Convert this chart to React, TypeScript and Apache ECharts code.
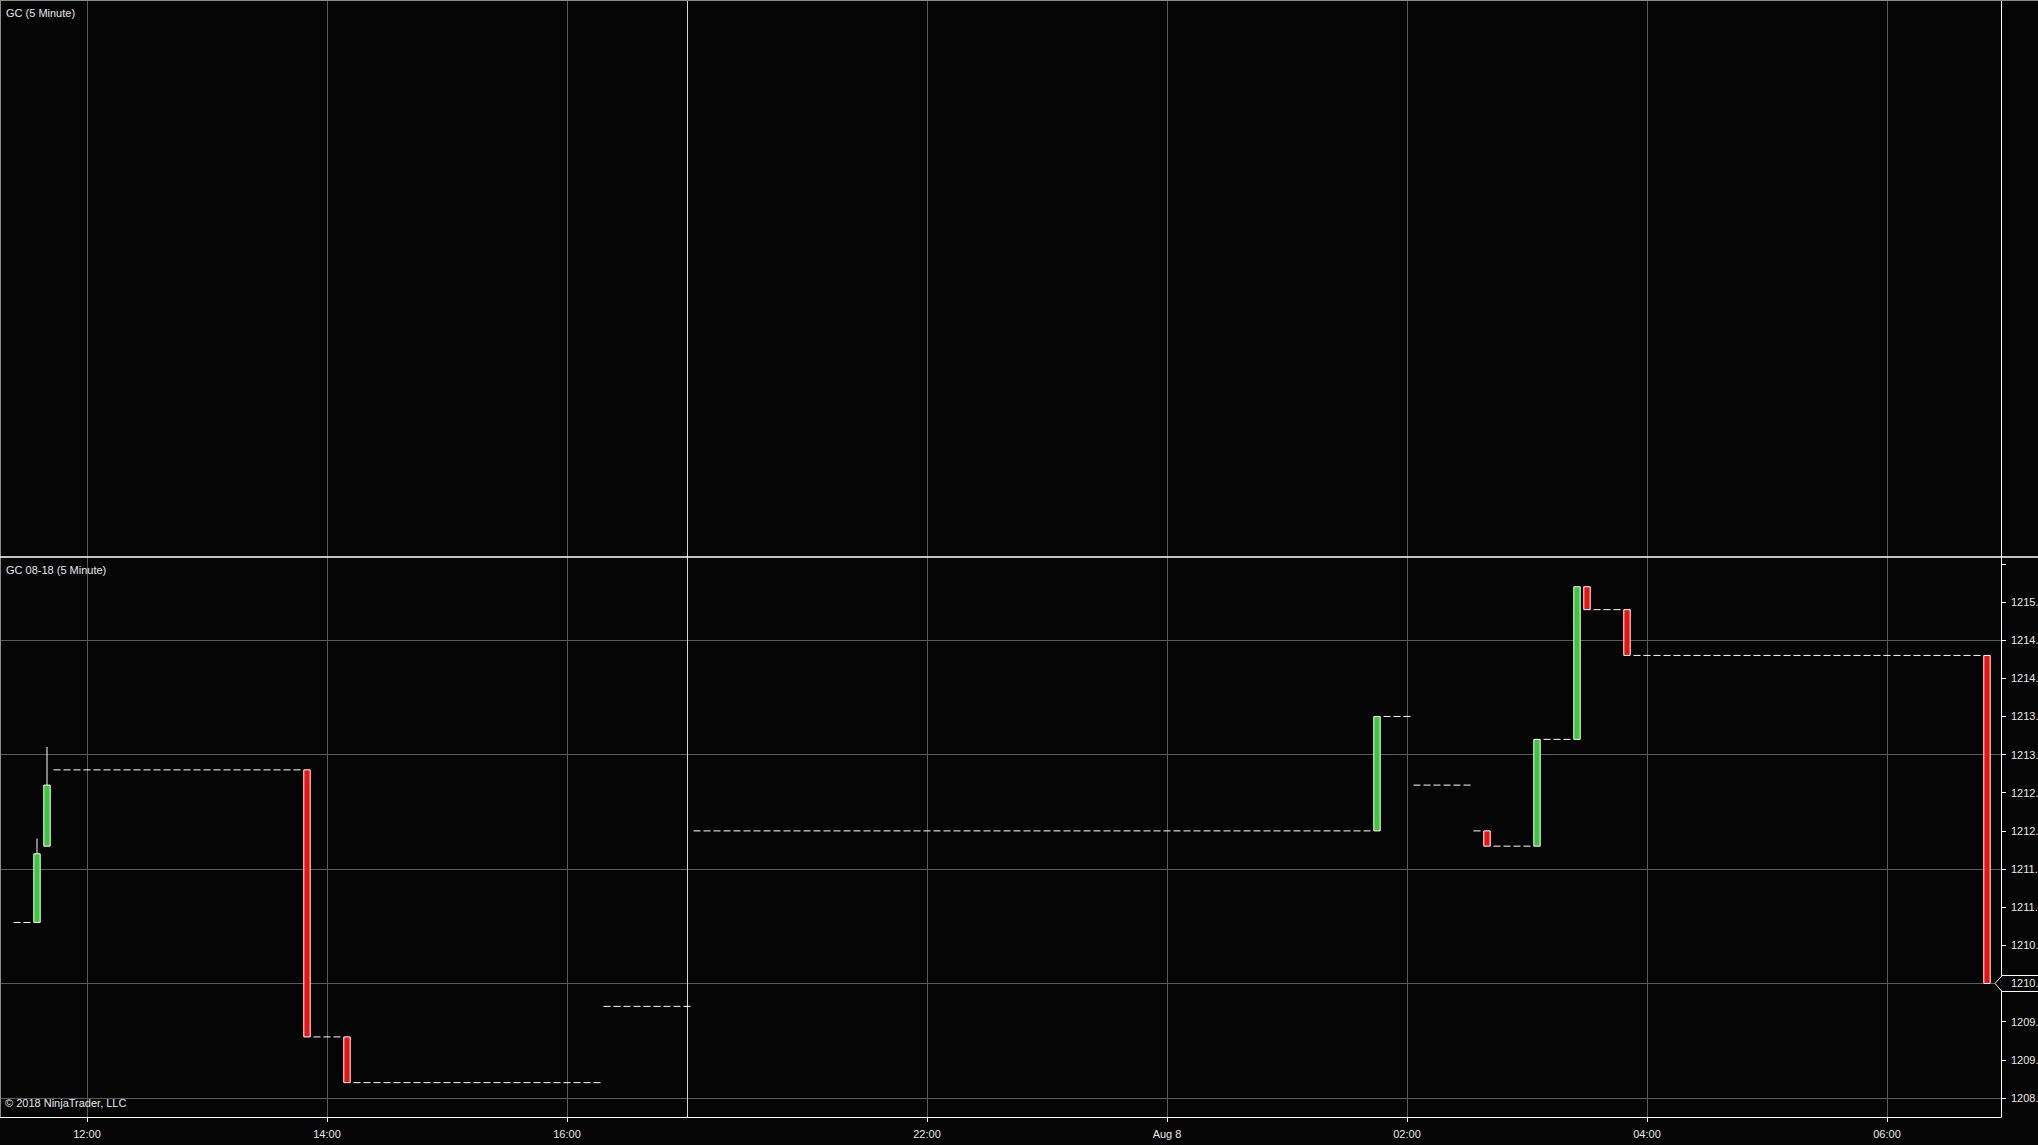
import React, { useEffect, useRef } from "react";
import * as echarts from "echarts";

// ---- data (5-minute bars, GC 08-18) ----
const candleTimes = [
  "08-07 11:35", "08-07 11:40", "08-07 13:50", "08-07 14:10",
  "08-08 01:45", "08-08 02:40", "08-08 03:05", "08-08 03:25",
  "08-08 03:30", "08-08 03:50", "08-08 06:50",
];
const candleOpen = [1210.8, 1211.8, 1212.8, 1209.3, 1212.0, 1212.0, 1211.8, 1213.2, 1215.2, 1214.9, 1214.3];
const candleClose = [1211.7, 1212.6, 1209.3, 1208.7, 1213.5, 1211.8, 1213.2, 1215.2, 1214.9, 1214.3, 1210.0];
const candleHigh = [1211.9, 1213.1, 1212.8, 1209.3, 1213.5, 1212.0, 1213.2, 1215.2, 1215.2, 1214.9, 1214.3];
const candleLow = [1210.8, 1211.8, 1209.3, 1208.7, 1212.0, 1211.8, 1211.8, 1213.2, 1214.9, 1214.3, 1210.0];

// runs of flat bars (open = high = low = close), drawn as dashes
const flatStart = [
  "08-07 11:25", "08-07 11:45", "08-07 13:55", "08-07 14:15", "08-07 16:20",
  "08-07 20:05", "08-08 01:50", "08-08 02:05", "08-08 02:35", "08-08 02:45",
  "08-08 03:10", "08-08 03:35", "08-08 03:55",
];
const flatEnd = [
  "08-07 11:30", "08-07 13:45", "08-07 14:05", "08-07 16:15", "08-07 17:00",
  "08-08 01:40", "08-08 02:00", "08-08 02:30", "08-08 02:35", "08-08 03:00",
  "08-08 03:20", "08-08 03:45", "08-08 06:45",
];
const flatPrice = [1210.8, 1212.8, 1209.3, 1208.7, 1209.7, 1212.0, 1213.5, 1212.6, 1212.0, 1211.8, 1213.2, 1214.9, 1214.3];

const xTickTimes = [
  "08-07 12:00", "08-07 14:00", "08-07 16:00", "08-07 22:00",
  "08-08 00:00", "08-08 02:00", "08-08 04:00", "08-08 06:00",
];
const xTickLabels = ["12:00", "14:00", "16:00", "22:00", "Aug 8", "02:00", "04:00", "06:00"];

const yTickValues = [1208.5, 1209.0, 1209.5, 1210.0, 1210.5, 1211.0, 1211.5, 1212.0, 1212.5, 1213.0, 1213.5, 1214.0, 1214.5, 1215.0, 1215.5];
const yLabelValues = [1208.5, 1209.0, 1209.5, 1210.0, 1210.5, 1211.0, 1211.5, 1212.0, 1212.5, 1213.0, 1213.5, 1214.0, 1214.5, 1215.0];
const yGridValues = [1208.5, 1210.0, 1211.5, 1213.0, 1214.5];

const SESSION_CLOSE = 17; // hours
const SESSION_REOPEN = 20; // hours (gap collapsed on the axis)

// ---- helpers ----
function toHours(t: string): number {
  const [md, hm] = t.split(" ");
  const day = parseInt(md.split("-")[1], 10);
  const [h, m] = hm.split(":").map(Number);
  return (day - 7) * 24 + h + m / 60;
}
function toAxis(t: string): number {
  const r = toHours(t);
  return r <= SESSION_CLOSE ? r : r - (SESSION_REOPEN - SESSION_CLOSE);
}

const X_MIN = 11.275;
const X_MAX = 27.95;
const Y_MIN = 1208.25;
const Y_MAX = 1215.59;
const BAR_HOURS = 5 / 60;

const BG = "#050505";
const GRID = "#5a5a5a";
const TXT = "#e8e8e8";
const FONT = '"Liberation Sans", Arial, sans-serif';
const UP = "#38c838";
const DOWN = "#ee1111";

const xTickValues = xTickTimes.map(toAxis);
const breakX = SESSION_CLOSE;

const candleData = candleTimes.map((t, i) => [toAxis(t), candleOpen[i], candleClose[i], candleLow[i], candleHigh[i]]);
const flatData = flatStart.map((t, i) => [toAxis(t), toAxis(flatEnd[i]), flatPrice[i]]);
const lastClose = candleClose[candleClose.length - 1];

function xLabel(v: number): string {
  const i = xTickValues.findIndex((x) => Math.abs(x - v) < 1e-6);
  return i >= 0 ? xTickLabels[i] : "";
}

function buildOption(): any {
  const hiddenX = (gridIndex: number, values: number[], color: string) => ({
    gridIndex,
    type: "value",
    min: X_MIN,
    max: X_MAX,
    axisLine: { show: false },
    axisTick: { show: false, customValues: values },
    axisLabel: { show: false, customValues: values },
    splitLine: { show: true, lineStyle: { color, width: 1, type: "solid" } },
  });

  return {
    backgroundColor: BG,
    animation: false,
    grid: [
      { left: 0, top: 0, width: 2001, height: 557, outerBoundsMode: "none", containLabel: false },
      { left: 0, top: 557, width: 2001, height: 560, outerBoundsMode: "none", containLabel: false },
    ],
    xAxis: [
      hiddenX(0, xTickValues, GRID),
      {
        gridIndex: 1,
        type: "value",
        min: X_MIN,
        max: X_MAX,
        position: "bottom",
        axisLine: { show: true, lineStyle: { color: "#ffffff", width: 1 } },
        axisTick: { show: true, length: 5, lineStyle: { color: "#ffffff" }, customValues: xTickValues },
        axisLabel: {
          show: true,
          customValues: xTickValues,
          formatter: (v: number) => xLabel(v),
          color: TXT,
          fontSize: 11,
          fontFamily: FONT,
          margin: 11,
        },
        splitLine: { show: true, lineStyle: { color: GRID, width: 1 } },
      },
      hiddenX(0, [breakX], "#d4d4d4"),
      hiddenX(1, [breakX], "#d4d4d4"),
    ],
    yAxis: [
      {
        gridIndex: 0,
        type: "value",
        min: 0,
        max: 1,
        position: "right",
        axisLine: { show: true, lineStyle: { color: "#ffffff", width: 1 } },
        axisTick: { show: false },
        axisLabel: { show: false },
        splitLine: { show: false },
      },
      {
        gridIndex: 1,
        type: "value",
        min: Y_MIN,
        max: Y_MAX,
        position: "right",
        axisLine: { show: true, lineStyle: { color: "#ffffff", width: 1 } },
        axisTick: { show: true, length: 5, lineStyle: { color: "#ffffff" }, customValues: yTickValues },
        axisLabel: {
          show: true,
          customValues: yLabelValues,
          formatter: (v: number) => v.toFixed(1),
          color: TXT,
          fontSize: 11,
          fontFamily: FONT,
          margin: 10,
        },
        splitLine: { show: false },
      },
      {
        gridIndex: 1,
        type: "value",
        min: Y_MIN,
        max: Y_MAX,
        position: "right",
        axisLine: { show: false },
        axisTick: { show: false, customValues: yGridValues },
        axisLabel: { show: false, customValues: yGridValues },
        splitLine: { show: true, lineStyle: { color: GRID, width: 1 } },
      },
    ],
    series: [
      {
        type: "custom",
        name: "flat",
        xAxisIndex: 1,
        yAxisIndex: 1,
        z: 3,
        encode: { x: [0, 1], y: 2 },
        data: flatData,
        renderItem: (params: any, api: any) => {
          const p0 = api.coord([api.value(0), api.value(2)]);
          const p1 = api.coord([api.value(1), api.value(2)]);
          const barPx = api.size([BAR_HOURS, 0])[0];
          const half = barPx * 0.35;
          return {
            type: "line",
            shape: { x1: p0[0] - half, y1: p0[1], x2: p1[0] + half, y2: p1[1] },
            style: { stroke: "#ffffff", lineWidth: 1, lineDash: [barPx * 0.7, barPx * 0.3] },
          };
        },
      },
      {
        type: "custom",
        name: "GC 08-18",
        xAxisIndex: 1,
        yAxisIndex: 1,
        z: 4,
        encode: { x: 0, y: [1, 2, 3, 4] },
        data: candleData,
        renderItem: (params: any, api: any) => {
          const x = api.value(0);
          const o = api.value(1);
          const c = api.value(2);
          const l = api.value(3);
          const h = api.value(4);
          const pO = api.coord([x, o]);
          const pC = api.coord([x, c]);
          const pL = api.coord([x, l]);
          const pH = api.coord([x, h]);
          const barPx = api.size([BAR_HOURS, 0])[0];
          const w = barPx * 0.64;
          const top = Math.min(pO[1], pC[1]);
          const bot = Math.max(pO[1], pC[1]);
          const children: any[] = [];
          if (pH[1] < top - 0.5) {
            children.push({
              type: "line",
              shape: { x1: pO[0], y1: pH[1], x2: pO[0], y2: top },
              style: { stroke: "#ffffff", lineWidth: 1 },
            });
          }
          if (pL[1] > bot + 0.5) {
            children.push({
              type: "line",
              shape: { x1: pO[0], y1: bot, x2: pO[0], y2: pL[1] },
              style: { stroke: "#ffffff", lineWidth: 1 },
            });
          }
          children.push({
            type: "rect",
            shape: { x: pO[0] - w / 2, y: top, width: w, height: Math.max(bot - top, 1) },
            style: { fill: c >= o ? UP : DOWN, stroke: "#ffffff", lineWidth: 1 },
          });
          return { type: "group", children };
        },
      },
      {
        type: "custom",
        name: "last",
        xAxisIndex: 1,
        yAxisIndex: 1,
        z: 20,
        clip: false,
        data: [[X_MAX, lastClose]],
        renderItem: (params: any, api: any) => {
          const p = api.coord([api.value(0), api.value(1)]);
          const x = p[0];
          const y = p[1];
          return {
            type: "group",
            children: [
              {
                type: "polygon",
                shape: {
                  points: [
                    [x - 6, y],
                    [x + 1, y - 8],
                    [x + 45, y - 8],
                    [x + 45, y + 8],
                    [x + 1, y + 8],
                  ],
                },
                style: { fill: BG, stroke: "#ffffff", lineWidth: 1 },
              },
              {
                type: "text",
                x: x + 10,
                y: y,
                style: {
                  text: lastClose.toFixed(1),
                  fill: TXT,
                  fontSize: 11,
                  fontFamily: FONT,
                  verticalAlign: "middle",
                  align: "left",
                },
              },
            ],
          };
        },
      },
    ],
    graphic: [
      { type: "line", z: 50, shape: { x1: 0, y1: 0.5, x2: 2038, y2: 0.5 }, style: { stroke: "#8c8c8c", lineWidth: 1 } },
      { type: "line", z: 50, shape: { x1: 0.5, y1: 0, x2: 0.5, y2: 1117 }, style: { stroke: "#8c8c8c", lineWidth: 1 } },
      { type: "line", z: 50, shape: { x1: 0, y1: 557, x2: 2038, y2: 557 }, style: { stroke: "#ffffff", lineWidth: 1.5 } },
      {
        type: "text",
        z: 50,
        x: 6,
        y: 7,
        style: { text: "GC (5 Minute)", fill: TXT, fontSize: 11, fontFamily: FONT, verticalAlign: "top" },
      },
      {
        type: "text",
        z: 50,
        x: 6,
        y: 564,
        style: { text: "GC 08-18 (5 Minute)", fill: TXT, fontSize: 11, fontFamily: FONT, verticalAlign: "top" },
      },
      {
        type: "text",
        z: 50,
        x: 5,
        y: 1097,
        style: { text: "© 2018 NinjaTrader, LLC", fill: TXT, fontSize: 11, fontFamily: FONT, verticalAlign: "top" },
      },
    ],
  };
}

export default function App() {
  const ref = useRef<HTMLDivElement>(null);
  useEffect(() => {
    if (!ref.current) return;
    const chart = echarts.init(ref.current, null, { renderer: "svg" });
    chart.setOption(buildOption());
    return () => {
      chart.dispose();
    };
  }, []);
  return (
    <div
      ref={ref}
      style={{ position: "absolute", left: 0, top: 0, width: 2038, height: 1145, background: BG, overflow: "hidden" }}
    />
  );
}
